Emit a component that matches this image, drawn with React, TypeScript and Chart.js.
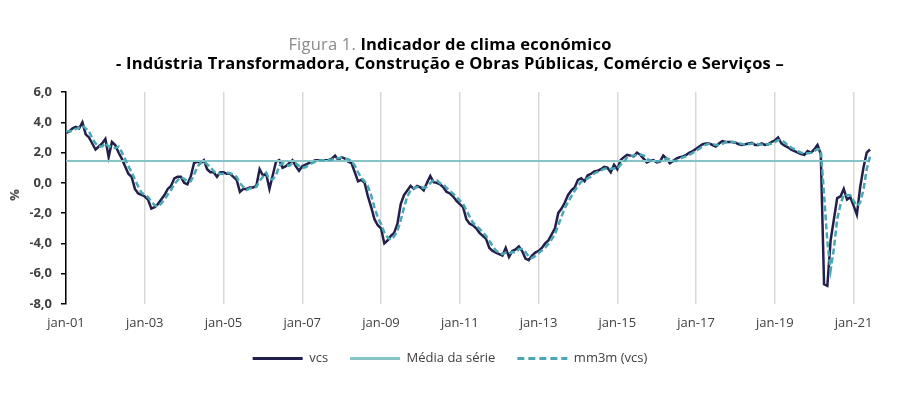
import React, { useEffect, useRef } from 'react';
import { Chart, registerables } from 'chart.js';

Chart.register(...registerables);

const monthNames = ['jan', 'fev', 'mar', 'abr', 'mai', 'jun', 'jul', 'ago', 'set', 'out', 'nov', 'dez'];
const startYear = 2001;

// vcs – monthly values jan-01 .. jun-21
const vcs = [
  3.3, 3.4, 3.6, 3.7, 3.6, 4.0, 3.2, 3.0, 2.6, 2.2, 2.4, 2.6,
  2.9, 1.7, 2.7, 2.5, 2.0, 1.6, 1.1, 0.6, 0.4, -0.4, -0.7, -0.8,
  -0.9, -1.1, -1.7, -1.6, -1.4, -1.1, -0.8, -0.4, -0.2, 0.3, 0.4, 0.4,
  0.0, -0.1, 0.4, 1.3, 1.4, 1.3, 1.5, 0.9, 0.7, 0.7, 0.4, 0.7,
  0.7, 0.6, 0.6, 0.4, 0.2, -0.6, -0.4, -0.4, -0.3, -0.3, -0.2, 0.9,
  0.5, 0.6, -0.4, 0.5, 1.4, 1.5, 1.0, 1.1, 1.3, 1.5, 1.1, 0.8,
  1.1, 1.2, 1.3, 1.4, 1.5, 1.5, 1.5, 1.5, 1.5, 1.6, 1.8, 1.5,
  1.7, 1.6, 1.4, 1.3, 0.7, 0.1, 0.2, 0.0, -0.9, -1.6, -2.4, -2.8,
  -3.0, -4.0, -3.8, -3.5, -3.3, -2.7, -1.4, -0.8, -0.5, -0.2, -0.4, -0.2,
  -0.3, -0.5, 0.0, 0.45, 0.05, 0.0, -0.1, -0.3, -0.6, -0.7, -0.9, -1.2,
  -1.4, -1.6, -2.4, -2.7, -2.8, -3.0, -3.3, -3.5, -3.7, -4.3, -4.5, -4.6,
  -4.7, -4.8, -4.3, -4.9, -4.5, -4.4, -4.2, -4.5, -5.0, -5.1, -4.8, -4.6,
  -4.5, -4.3, -4.0, -3.8, -3.4, -3.0, -2.0, -1.7, -1.3, -0.8, -0.5, -0.3,
  0.2, 0.3, 0.1, 0.5, 0.6, 0.75, 0.8, 0.9, 1.05, 1.0, 0.7, 1.2,
  0.9, 1.5, 1.7, 1.85, 1.8, 1.75, 2.0, 1.85, 1.6, 1.35, 1.45, 1.5,
  1.35, 1.4, 1.8, 1.6, 1.3, 1.45, 1.6, 1.7, 1.75, 1.85, 2.0, 2.1,
  2.25, 2.4, 2.55, 2.6, 2.6, 2.5, 2.4, 2.6, 2.75, 2.7, 2.7, 2.7,
  2.65, 2.55, 2.5, 2.55, 2.6, 2.65, 2.5, 2.5, 2.6, 2.5, 2.55, 2.7,
  2.8, 3.0, 2.6, 2.45, 2.35, 2.2, 2.1, 2.0, 1.9, 1.85, 2.1, 2.0,
  2.2, 2.5, 1.9, -6.7, -6.8, -3.8, -2.4, -1.0, -0.9, -0.4, -1.1, -0.95,
  -1.5, -2.1, -0.3, 1.0, 2.0, 2.2,
];

// mm3m (vcs) – 3-month moving average
const mm3m = [
  3.4, 3.4, 3.43, 3.57, 3.63, 3.77, 3.6, 3.4, 2.93, 2.6, 2.4, 2.4,
  2.63, 2.4, 2.43, 2.3, 2.4, 2.03, 1.57, 1.1, 0.7, 0.2, -0.23, -0.63,
  -0.8, -0.93, -1.23, -1.47, -1.57, -1.37, -1.1, -0.77, -0.47, -0.1, 0.17, 0.37,
  0.27, 0.1, 0.1, 0.53, 1.03, 1.33, 1.4, 1.23, 1.03, 0.77, 0.6, 0.6,
  0.6, 0.67, 0.63, 0.53, 0.4, 0.0, -0.27, -0.47, -0.37, -0.33, -0.27, 0.13,
  0.4, 0.67, 0.23, 0.23, 0.5, 1.13, 1.3, 1.2, 1.13, 1.3, 1.3, 1.13,
  1.0, 1.03, 1.2, 1.3, 1.4, 1.47, 1.5, 1.5, 1.5, 1.53, 1.63, 1.63,
  1.67, 1.6, 1.57, 1.43, 1.13, 0.7, 0.33, 0.1, -0.23, -0.83, -1.63, -2.27,
  -2.73, -3.27, -3.6, -3.77, -3.53, -3.17, -2.47, -1.63, -0.9, -0.5, -0.37, -0.27,
  -0.3, -0.33, -0.27, -0.02, 0.17, 0.17, -0.02, -0.13, -0.33, -0.53, -0.73, -0.93,
  -1.17, -1.4, -1.8, -2.23, -2.63, -2.83, -3.03, -3.27, -3.5, -3.83, -4.17, -4.47,
  -4.6, -4.7, -4.6, -4.67, -4.57, -4.6, -4.37, -4.37, -4.57, -4.87, -4.97, -4.83,
  -4.63, -4.47, -4.27, -4.03, -3.73, -3.4, -2.8, -2.23, -1.67, -1.27, -0.87, -0.53,
  -0.2, 0.07, 0.2, 0.3, 0.4, 0.62, 0.72, 0.82, 0.92, 0.98, 0.92, 0.97,
  0.93, 1.2, 1.37, 1.68, 1.78, 1.8, 1.85, 1.87, 1.82, 1.6, 1.47, 1.43,
  1.43, 1.42, 1.52, 1.6, 1.57, 1.45, 1.45, 1.58, 1.68, 1.77, 1.87, 1.98,
  2.12, 2.25, 2.4, 2.52, 2.58, 2.57, 2.5, 2.5, 2.58, 2.68, 2.72, 2.7,
  2.68, 2.63, 2.57, 2.53, 2.55, 2.6, 2.58, 2.55, 2.53, 2.53, 2.55, 2.58,
  2.68, 2.83, 2.8, 2.68, 2.47, 2.33, 2.22, 2.1, 2.0, 1.92, 1.95, 1.98,
  2.1, 2.23, 2.2, -0.77, -3.87, -5.77, -4.33, -2.4, -1.43, -0.77, -0.8, -0.82,
  -1.18, -1.52, -1.3, -0.47, 0.9, 1.73,
];

// Média da série
const serieMean = 1.45;

const yMin = -8;
const yMax = 6;
const yStep = 2;
const xLabelEvery = 24;

const categories = vcs.map(
  (_, i) => `${monthNames[i % 12]}-${String((startYear + Math.floor(i / 12)) % 100).padStart(2, '0')}`
);

const FONT = '"Open Sans", sans-serif';
const TEXT = '#404040';

export default function App() {
  const canvasRef = useRef<HTMLCanvasElement | null>(null);

  useEffect(() => {
    if (!canvasRef.current) return;
    const chart = new Chart(canvasRef.current, {
      type: 'line',
      data: {
        labels: categories,
        datasets: [
          {
            label: 'vcs',
            data: vcs,
            borderColor: '#211f4b',
            backgroundColor: '#211f4b',
            borderWidth: 2.5,
            pointRadius: 0,
            tension: 0,
            order: 3,
          },
          {
            label: 'Média da série',
            data: categories.map(() => serieMean),
            borderColor: '#86c4c8',
            backgroundColor: '#86c4c8',
            borderWidth: 2,
            pointRadius: 0,
            tension: 0,
            order: 2,
          },
          {
            label: 'mm3m (vcs)',
            data: mm3m,
            borderColor: '#4ba7b1',
            backgroundColor: '#4ba7b1',
            borderWidth: 2.5,
            borderDash: [6, 3],
            pointRadius: 0,
            tension: 0,
            order: 1,
          },
        ],
      },
      options: {
        animation: false,
        responsive: false,
        maintainAspectRatio: false,
        layout: { padding: { left: 30, right: 30, top: 92, bottom: 21 } },
        plugins: {
          title: { display: false },
          tooltip: { enabled: false },
          legend: {
            display: true,
            position: 'bottom',
            labels: {
              usePointStyle: true,
              pointStyle: 'line',
              pointStyleWidth: 50,
              boxWidth: 50,
              padding: 22,
              color: TEXT,
              font: { family: FONT, size: 13 },
              sort: (a: any, b: any) => a.datasetIndex - b.datasetIndex,
              generateLabels: (ch: any) => {
                const items = (Chart as any).defaults.plugins.legend.labels.generateLabels(ch);
                return items.map((it: any) => {
                  const ds: any = ch.data.datasets[it.datasetIndex];
                  return {
                    ...it,
                    lineWidth: 3,
                    lineDash: ds.borderDash ? [7, 4] : [],
                    strokeStyle: ds.borderColor,
                    fillStyle: ds.borderColor,
                    pointStyle: 'line',
                  };
                });
              },
            },
          },
        },
        scales: {
          x: {
            type: 'category',
            offset: false,
            afterBuildTicks: (axis: any) => {
              axis.ticks = axis.ticks.filter((t: any) => t.value % xLabelEvery === 0);
            },
            afterFit: (s: any) => {
              s.height = 26;
            },
            border: { display: false },
            grid: { color: '#d9d9d9', lineWidth: 1.5, drawTicks: false },
            ticks: {
              autoSkip: false,
              maxRotation: 0,
              minRotation: 0,
              padding: 11,
              color: TEXT,
              font: { family: FONT, size: 13 },
            },
          },
          y: {
            min: yMin,
            max: yMax,
            afterFit: (s: any) => {
              s.width = 36;
            },
            border: { display: true, color: '#000000', width: 1.5 },
            grid: {
              drawOnChartArea: false,
              drawTicks: true,
              tickLength: 5,
              color: '#000000',
              lineWidth: 1.5,
            },
            ticks: {
              stepSize: yStep,
              padding: 9,
              color: TEXT,
              font: { family: FONT, size: 13, weight: 'bold' },
              callback: (v: any) => Number(v).toFixed(1).replace('.', ','),
            },
          },
        },
      },
    });
    return () => chart.destroy();
  }, []);

  return (
    <div
      style={{
        position: 'fixed',
        left: 0,
        top: 0,
        width: 900,
        height: 396,
        background: '#ffffff',
        overflow: 'hidden',
      }}
    >
      <canvas
        ref={canvasRef}
        width={900}
        height={396}
        style={{ position: 'absolute', left: 0, top: 0, width: 900, height: 396 }}
      />
      <div
        style={{
          position: 'absolute',
          left: 0,
          top: 34,
          width: 900,
          textAlign: 'center',
          fontFamily: FONT,
          fontSize: 16.5,
          letterSpacing: '0.2px',
          lineHeight: '19px',
          fontWeight: 700,
          color: '#000000',
          whiteSpace: 'nowrap',
        }}
      >
        <div>
          <span style={{ color: '#8a8a8a', fontWeight: 400 }}>Figura 1. </span>
          <span>Indicador de clima económico</span>
        </div>
        <div>- Indústria Transformadora, Construção e Obras Públicas, Comércio e Serviços –</div>
      </div>
      <div
        style={{
          position: 'absolute',
          left: 14,
          top: 195,
          transform: 'translate(-50%, -50%) rotate(-90deg)',
          fontFamily: FONT,
          fontSize: 13,
          fontWeight: 700,
          color: TEXT,
        }}
      >
        %
      </div>
    </div>
  );
}
